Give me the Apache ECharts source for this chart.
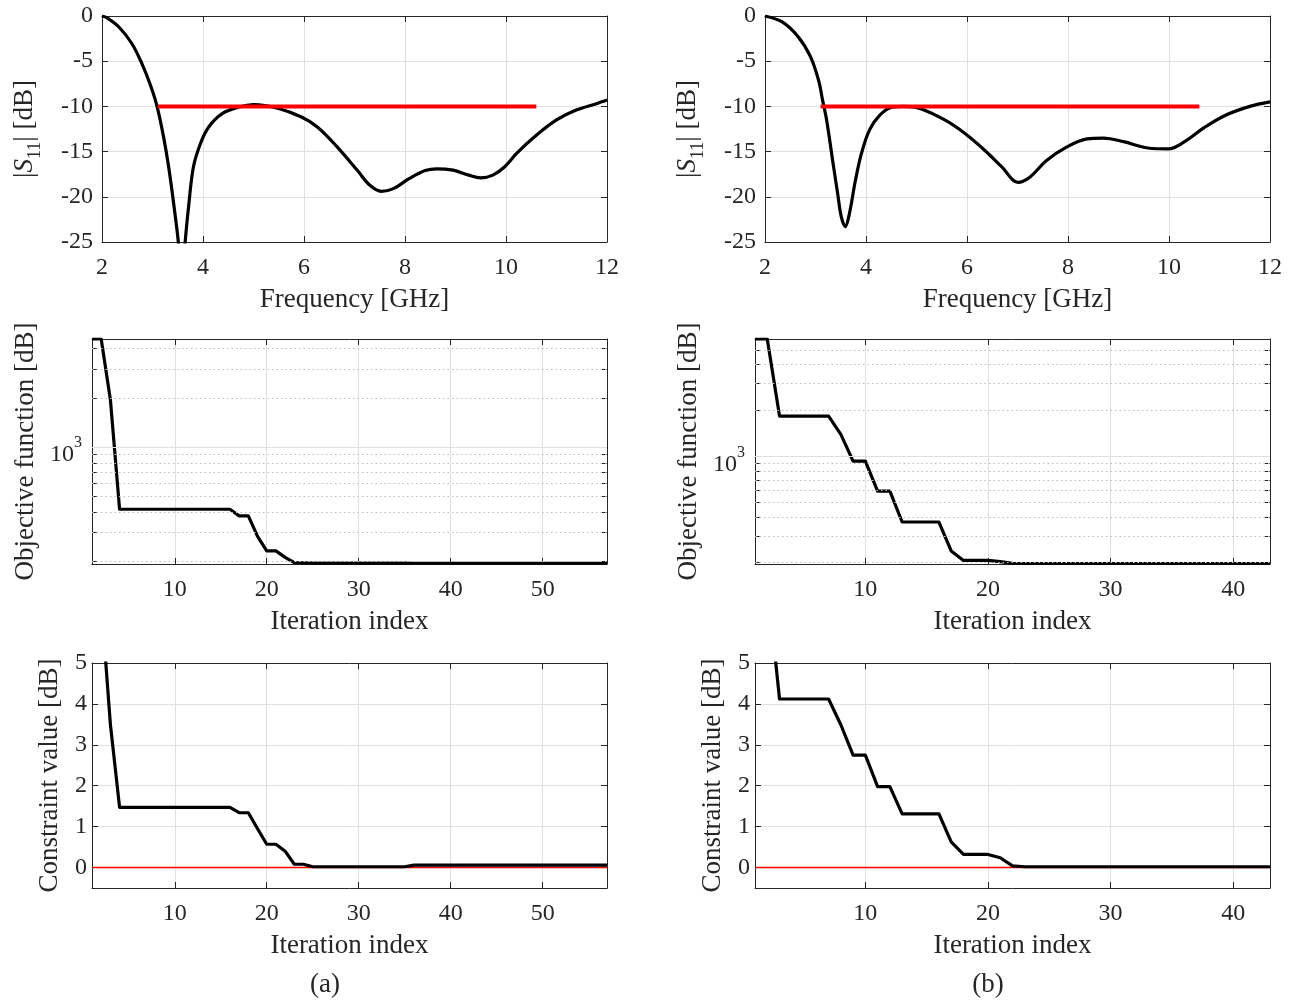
<!DOCTYPE html>
<html><head><meta charset="utf-8">
<script src="https://cdn.jsdelivr.net/npm/echarts@6/dist/echarts.min.js"></script>
<style>html,body{margin:0;padding:0;background:#fff}#c{width:1295px;height:1000px}</style>
</head><body><div id="c"></div>
<script>
// ---------- data ----------
const freqA = [2.0, 2.1, 2.33, 2.59, 2.79, 2.96, 3.09, 3.22, 3.32, 3.42, 3.52, 3.58, 3.64, 3.72, 3.81, 3.95, 4.11, 4.38, 4.71, 5.0, 5.48, 5.96, 6.27, 6.66, 7.06, 7.3, 7.53, 7.77, 8.08, 8.4, 8.63, 8.95, 9.26, 9.5, 9.74, 9.97, 10.21, 10.6, 11.0, 11.39, 11.79, 12.0];
const s11A  = [0, -0.2, -1.19, -3.04, -5.26, -7.67, -10.0, -13.4, -16.7, -20.8, -25.5, -31, -25.5, -20.8, -16.7, -14.1, -12.3, -10.8, -10.07, -9.8, -10.2, -11.2, -12.3, -14.5, -17.1, -18.7, -19.4, -19.1, -18.0, -17.1, -16.9, -17.05, -17.6, -17.9, -17.6, -16.7, -15.2, -13.2, -11.5, -10.4, -9.7, -9.3];
const freqB = [2.0, 2.34, 2.66, 2.9, 3.06, 3.14, 3.22, 3.34, 3.44, 3.51, 3.59, 3.67, 3.79, 3.91, 4.07, 4.27, 4.51, 4.75, 5.08, 5.56, 5.96, 6.36, 6.69, 7.01, 7.25, 7.57, 7.97, 8.38, 8.7, 9.1, 9.58, 9.99, 10.31, 10.71, 11.11, 11.6, 12.0];
const s11B  = [0, -0.66, -2.32, -4.5, -7.1, -9.3, -11.5, -16.0, -19.7, -22.2, -23.3, -21.9, -18.2, -15.2, -12.6, -11.0, -10.1, -10.0, -10.25, -11.5, -13.0, -14.9, -16.7, -18.4, -17.8, -16.0, -14.5, -13.6, -13.5, -13.9, -14.6, -14.7, -13.9, -12.3, -11.0, -10.0, -9.5];
const bandF = [3.1, 10.6];
const bandLevel = -10;

const objA = [4580, 4580, 1950,
  417, 417, 417, 417, 417, 417, 417, 417, 417, 417, 417, 417, 417,
  380, 380, 285, 232, 232, 212, 197, 196,
  195.5, 195.5, 195.5, 195.5, 195.5, 195.5, 195.5, 195.5, 195.5, 195.5, 195.5,
  195, 195, 195, 195, 195, 195, 195, 195, 195, 195, 195, 195, 195, 195, 195, 195, 195, 195, 195, 195, 195, 195];
const conA = [6.5, 6.5, 3.5,
  1.47, 1.47, 1.47, 1.47, 1.47, 1.47, 1.47, 1.47, 1.47, 1.47, 1.47, 1.47, 1.47,
  1.34, 1.34, 0.95, 0.57, 0.57, 0.4, 0.08, 0.08,
  0.02, 0.02, 0.02, 0.02, 0.02, 0.02, 0.02, 0.02, 0.02, 0.02, 0.02,
  0.06, 0.06, 0.06, 0.06, 0.06, 0.06, 0.06, 0.06, 0.06, 0.06, 0.06, 0.06, 0.06, 0.06, 0.06, 0.06, 0.06, 0.06, 0.06, 0.06, 0.06, 0.06];
const objB = [5900, 5900, 1837, 1837, 1837, 1837, 1837, 1393, 930, 930, 591, 591,
  370, 370, 370, 370, 239, 207, 207, 207, 203, 198,
  197.5, 197.5, 197.5, 197.5, 197.5, 197.5, 197.5, 197.5, 197.5, 197.5, 197.5,
  197.5, 197.5, 197.5, 197.5, 197.5, 197.5, 197.5, 197.5, 197.5, 197.5];
const conB = [7.0, 7.0, 4.12, 4.12, 4.12, 4.12, 4.12, 3.49, 2.75, 2.75, 1.98, 1.98,
  1.31, 1.31, 1.31, 1.31, 0.63, 0.32, 0.32, 0.32, 0.24, 0.04,
  0.02, 0.02, 0.02, 0.02, 0.02, 0.02, 0.02, 0.02, 0.02, 0.02, 0.02,
  0.02, 0.02, 0.02, 0.02, 0.02, 0.02, 0.02, 0.02, 0.02, 0.02];
const zeroLevel = 0;

const iterTicksA = [10, 20, 30, 40, 50];
const iterTicksB = [10, 20, 30, 40];
const conTicks = [0, 1, 2, 3, 4, 5];
const logMinorA = [200, 300, 400, 500, 600, 700, 800, 900, 2000, 3000, 4000];
const logMinorB = [200, 300, 400, 500, 600, 700, 800, 900, 2000, 3000, 4000, 5000];
const logMajor = [1000];

// ---------- style ----------
const FONT = '"Liberation Serif", "Times New Roman", serif';
const TXT = '#262626';
const FRAME = '#262626';
const GRIDC = '#e0e0e0';
const MINORC = '#bdbdbd';

const grids = [
  {left: 102, top: 16, width: 505, height: 226},
  {left: 765, top: 16, width: 505, height: 226},
  {left: 92, top: 339, width: 515, height: 225},
  {left: 755, top: 339, width: 515, height: 225},
  {left: 92, top: 663, width: 515, height: 225},
  {left: 755, top: 663, width: 515, height: 225}
].map(g => Object.assign({containLabel: false, show: false}, g));

function tick(custom) {
  const t = {show: true, inside: true, length: 6, lineStyle: {color: FRAME, width: 1}};
  if (custom) t.customValues = custom;
  return t;
}
function pair(dim, gi, cfg) {
  const common = {gridIndex: gi, type: cfg.type || 'value', min: cfg.min, max: cfg.max};
  if (cfg.interval) common.interval = cfg.interval;
  const main = Object.assign({}, common, {
    position: dim === 'x' ? 'bottom' : 'left',
    axisLine: {show: true, onZero: false, lineStyle: {color: FRAME, width: 1}},
    axisTick: tick(cfg.ticks),
    axisLabel: Object.assign({show: true, color: TXT, fontFamily: FONT, fontSize: 24, margin: cfg.labelMargin}, cfg.label || {}),
    splitLine: {show: cfg.split !== false, lineStyle: {color: GRIDC, width: 1}},
    name: cfg.name, nameLocation: 'middle', nameGap: cfg.nameGap,
    nameTextStyle: Object.assign({color: TXT, fontFamily: FONT, fontSize: 27}, cfg.nameStyle || {})
  });
  if (cfg.ticks && main.axisLabel.customValues === undefined && !cfg.noLabelCustom) main.axisLabel.customValues = cfg.ticks;
  const mirror = Object.assign({}, common, {
    position: dim === 'x' ? 'top' : 'right',
    axisLine: {show: true, onZero: false, lineStyle: {color: FRAME, width: 1}},
    axisTick: tick(cfg.ticks),
    axisLabel: {show: false},
    splitLine: {show: false}
  });
  return [main, mirror];
}

const xAxes = [], yAxes = [];
function add(dim, gi, cfg) { (dim === 'x' ? xAxes : yAxes).push(...pair(dim, gi, cfg)); }

const s11Name = '|{s|S}{sub|11}| [dB]';
const s11NameStyle = {rich: {
  s: {fontStyle: 'italic', fontFamily: FONT, fontSize: 27, color: TXT, verticalAlign: 'middle', lineHeight: 38},
  sub: {fontFamily: FONT, fontSize: 18, color: TXT, verticalAlign: 'bottom', lineHeight: 38}
}, lineHeight: 38};

// grid 0,1: S11
[0, 1].forEach(gi => {
  add('x', gi, {min: 2, max: 12, interval: 2, labelMargin: 14, name: 'Frequency [GHz]', nameGap: 44});
  add('y', gi, {min: -25, max: 0, interval: 5, labelMargin: 9, name: s11Name, nameGap: 58, nameStyle: s11NameStyle});
});
// grid 2,3: objective (log)
const logLabel = {
  customValues: logMajor,
  formatter: v => (Math.abs(v - 1000) < 1 ? '{b|10}{sup|3}' : ''),
  padding: [8, 0, 0, 0],
  rich: {
    b: {fontFamily: FONT, fontSize: 24, color: TXT, verticalAlign: 'bottom', lineHeight: 32},
    sup: {fontFamily: FONT, fontSize: 16, color: TXT, verticalAlign: 'top', lineHeight: 32}
  }
};
add('x', 2, {min: 1, max: 57, ticks: iterTicksA, labelMargin: 14, name: 'Iteration index', nameGap: 44});
add('y', 2, {type: 'log', min: 193, max: 4580, ticks: logMinorA.concat(logMajor), noLabelCustom: true, labelMargin: 10, label: logLabel, split: false, name: 'Objective function [dB]', nameGap: 53});
add('x', 3, {min: 1, max: 43, ticks: iterTicksB, labelMargin: 14, name: 'Iteration index', nameGap: 44});
add('y', 3, {type: 'log', min: 196, max: 5900, ticks: logMinorB.concat(logMajor), noLabelCustom: true, labelMargin: 10, label: logLabel, split: false, name: 'Objective function [dB]', nameGap: 53});
// grid 4,5: constraint
add('x', 4, {min: 1, max: 57, ticks: iterTicksA, labelMargin: 14, name: 'Iteration index', nameGap: 44});
add('y', 4, {min: -0.5, max: 5, ticks: conTicks, labelMargin: 5, name: 'Constraint value [dB]', nameGap: 29});
add('x', 5, {min: 1, max: 43, ticks: iterTicksB, labelMargin: 14, name: 'Iteration index', nameGap: 44});
add('y', 5, {min: -0.5, max: 5, ticks: conTicks, labelMargin: 5, name: 'Constraint value [dB]', nameGap: 29});

const idx = arr => arr.map((v, i) => [i + 1, v]);
const zip = (a, b) => a.map((v, i) => [v, b[i]]);

function blackLine(gi, data, smooth) {
  return {type: 'line', xAxisIndex: 2 * gi, yAxisIndex: 2 * gi, data, smooth: smooth || false,
    showSymbol: false, symbol: 'none', z: 3, clip: true,
    lineStyle: {color: '#000', width: 3.2, join: 'round'}};
}
function redLine(gi, data, w, z) {
  return {type: 'line', xAxisIndex: 2 * gi, yAxisIndex: 2 * gi, data, symbol: 'none', z: z,
    color: '#ff0000', lineStyle: {color: '#ff0000', width: w, opacity: 1}};
}
function logGrid(gi, minor) {
  return {type: 'line', xAxisIndex: 2 * gi, yAxisIndex: 2 * gi, data: [], z: 1, symbol: 'none',
    markLine: {silent: true, symbol: 'none', animation: false, label: {show: false},
      data: minor.map(v => ({yAxis: v, lineStyle: {color: MINORC, width: 1, type: [1.5, 3]}}))
        .concat(logMajor.map(v => ({yAxis: v, lineStyle: {color: GRIDC, width: 1, type: 'solid'}})))}};
}

const series = [
  logGrid(2, logMinorA), logGrid(3, logMinorB),
  blackLine(0, zip(freqA, s11A), 0.35),
  redLine(0, bandF.map(f => [f, bandLevel]), 4, 4),
  blackLine(1, zip(freqB, s11B), 0.35),
  redLine(1, bandF.map(f => [f, bandLevel]), 4, 4),
  blackLine(2, idx(objA)),
  blackLine(3, idx(objB)),
  redLine(4, [[1, zeroLevel], [57, zeroLevel]], 1.6, 2),
  blackLine(4, idx(conA)),
  redLine(5, [[1, zeroLevel], [43, zeroLevel]], 1.6, 2),
  blackLine(5, idx(conB))
];

const chart = echarts.init(document.getElementById('c'), null, {renderer: 'canvas'});
chart.setOption({
  animation: false,
  backgroundColor: '#fff',
  grid: grids,
  xAxis: xAxes,
  yAxis: yAxes,
  series,
  graphic: [
    {type: 'text', x: 325, y: 985, style: {text: '(a)', font: '27px ' + FONT, fill: TXT, align: 'center', verticalAlign: 'middle'}},
    {type: 'text', x: 988, y: 985, style: {text: '(b)', font: '27px ' + FONT, fill: TXT, align: 'center', verticalAlign: 'middle'}}
  ]
});
</script></body></html>
